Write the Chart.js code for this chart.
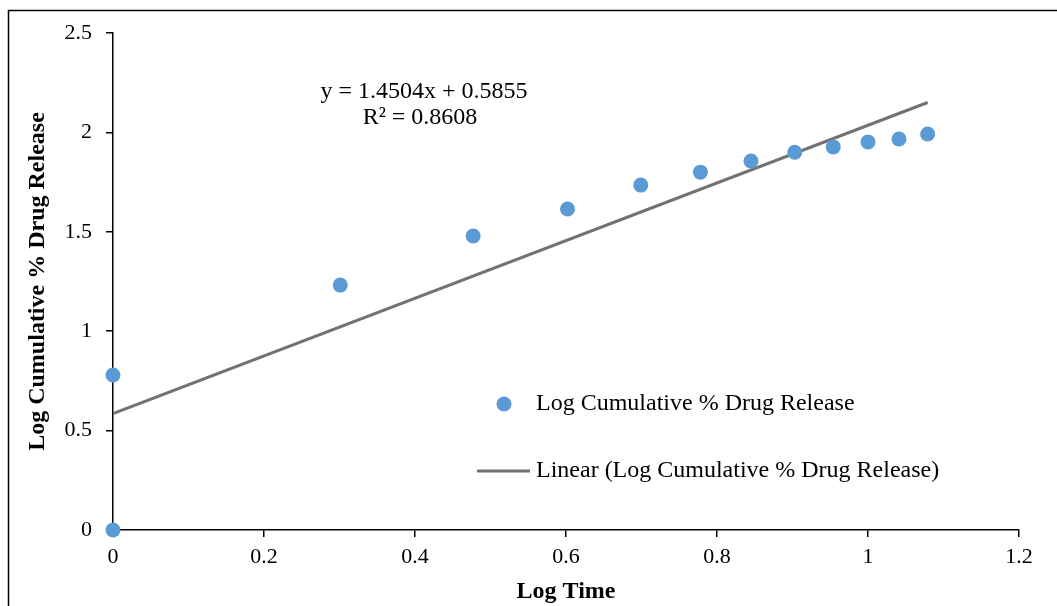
<!DOCTYPE html>
<html>
<head>
<meta charset="utf-8">
<script src="https://cdn.jsdelivr.net/npm/chart.js@4"></script>
<style>
  html, body { margin: 0; padding: 0; background: #fff; overflow: hidden; }
  #wrap { width: 1057px; height: 606px; position: relative; }
</style>
</head>
<body>
<div id="wrap"><canvas id="grafica" width="1057" height="606"></canvas></div>
<script>
// valores
const logTime = [0, 0, 0.301, 0.477, 0.602, 0.699, 0.778, 0.845, 0.903, 0.954, 1.000, 1.041, 1.079];
const logRelease = [0, 0.78, 1.232, 1.479, 1.615, 1.735, 1.80, 1.856, 1.90, 1.927, 1.952, 1.967, 1.992];
const trendX = [0, 1.079];
const trendY = [0.5855, 2.1505];
const xTicks = [0, 0.2, 0.4, 0.6, 0.8, 1, 1.2];
const yTicks = [0, 0.5, 1, 1.5, 2, 2.5];
const equation = ['y = 1.4504x + 0.5855', 'R² = 0.8608'];

const serif = '"Liberation Serif", "Times New Roman", serif';

// marco exterior, ecuacion y leyenda dentro del area
const extras = {
  id: 'extras',
  beforeDraw(chart) {
    const c = chart.ctx;
    c.save();
    c.fillStyle = '#fff';
    c.fillRect(0, 0, chart.width, chart.height);
    c.strokeStyle = '#000';
    c.lineWidth = 1.5;
    c.strokeRect(8.5, 10.5, 1080, 620);
    c.restore();
  },
  afterDraw(chart) {
    const c = chart.ctx;
    c.save();
    c.fillStyle = '#000';
    c.font = '24px ' + serif;
    c.textAlign = 'center';
    c.textBaseline = 'middle';
    c.fillText(equation[0], 424, 92);
    c.fillText(equation[1], 420, 118);

    const ds = chart.data.datasets;
    c.textAlign = 'left';
    c.fillStyle = ds[0].backgroundColor;
    c.beginPath();
    c.arc(504, 404, 7.5, 0, Math.PI * 2);
    c.fill();
    c.fillStyle = '#000';
    c.fillText(ds[0].label, 536, 404);

    c.strokeStyle = ds[1].borderColor;
    c.lineWidth = 3;
    c.beginPath();
    c.moveTo(477, 471);
    c.lineTo(530, 471);
    c.stroke();
    c.fillText(ds[1].label, 536, 471);
    c.restore();
  }
};

document.addEventListener('DOMContentLoaded', () => {
  const ctx = document.getElementById('grafica').getContext('2d');
  new Chart(ctx, {
    type: 'scatter',
    data: {
      datasets: [{
        label: 'Log Cumulative % Drug Release',
        data: logTime.map((x, i) => ({ x: x, y: logRelease[i] })),
        backgroundColor: '#5B9BD5',
        borderColor: '#5B9BD5',
        pointRadius: 7.5,
        pointBorderWidth: 0,
        clip: false,
        order: 1
      }, {
        label: 'Linear (Log Cumulative % Drug Release)',
        type: 'line',
        data: trendX.map((x, i) => ({ x: x, y: trendY[i] })),
        borderColor: '#767171',
        borderWidth: 3,
        pointRadius: 0,
        fill: false,
        order: 2
      }]
    },
    options: {
      responsive: false,
      animation: false,
      devicePixelRatio: 1,
      layout: { padding: { left: 19, top: 33, right: 38, bottom: 0 } },
      plugins: {
        legend: { display: false },
        tooltip: { enabled: false }
      },
      scales: {
        x: {
          type: 'linear',
          min: 0, max: 1.2,
          afterBuildTicks: s => { s.ticks = xTicks.map(v => ({ value: v })); },
          afterFit: s => { s.height = 76; },
          border: { display: true, color: '#000', width: 1.5 },
          grid: { display: true, drawOnChartArea: false, color: '#000', tickLength: 7, lineWidth: 1.5 },
          ticks: { color: '#000', font: { family: serif, size: 22 }, padding: 7, maxRotation: 0, callback: v => String(v) },
          title: { display: true, text: 'Log Time', color: '#000', font: { family: serif, size: 24, weight: 'bold' }, padding: { top: 4, bottom: 0 } }
        },
        y: {
          type: 'linear',
          min: 0, max: 2.5,
          afterBuildTicks: s => { s.ticks = yTicks.map(v => ({ value: v })); },
          afterFit: s => { s.width = 94; },
          border: { display: true, color: '#000', width: 1.5 },
          grid: { display: true, drawOnChartArea: false, color: '#000', tickLength: 7, lineWidth: 1.5 },
          ticks: { color: '#000', font: { family: serif, size: 22 }, padding: 14, callback: v => String(v) },
          title: { display: true, text: 'Log Cumulative % Drug Release', color: '#000', font: { family: serif, size: 24, weight: 'bold' }, padding: { bottom: 0 } }
        }
      }
    },
    plugins: [extras]
  });
});
</script>
</body>
</html>
